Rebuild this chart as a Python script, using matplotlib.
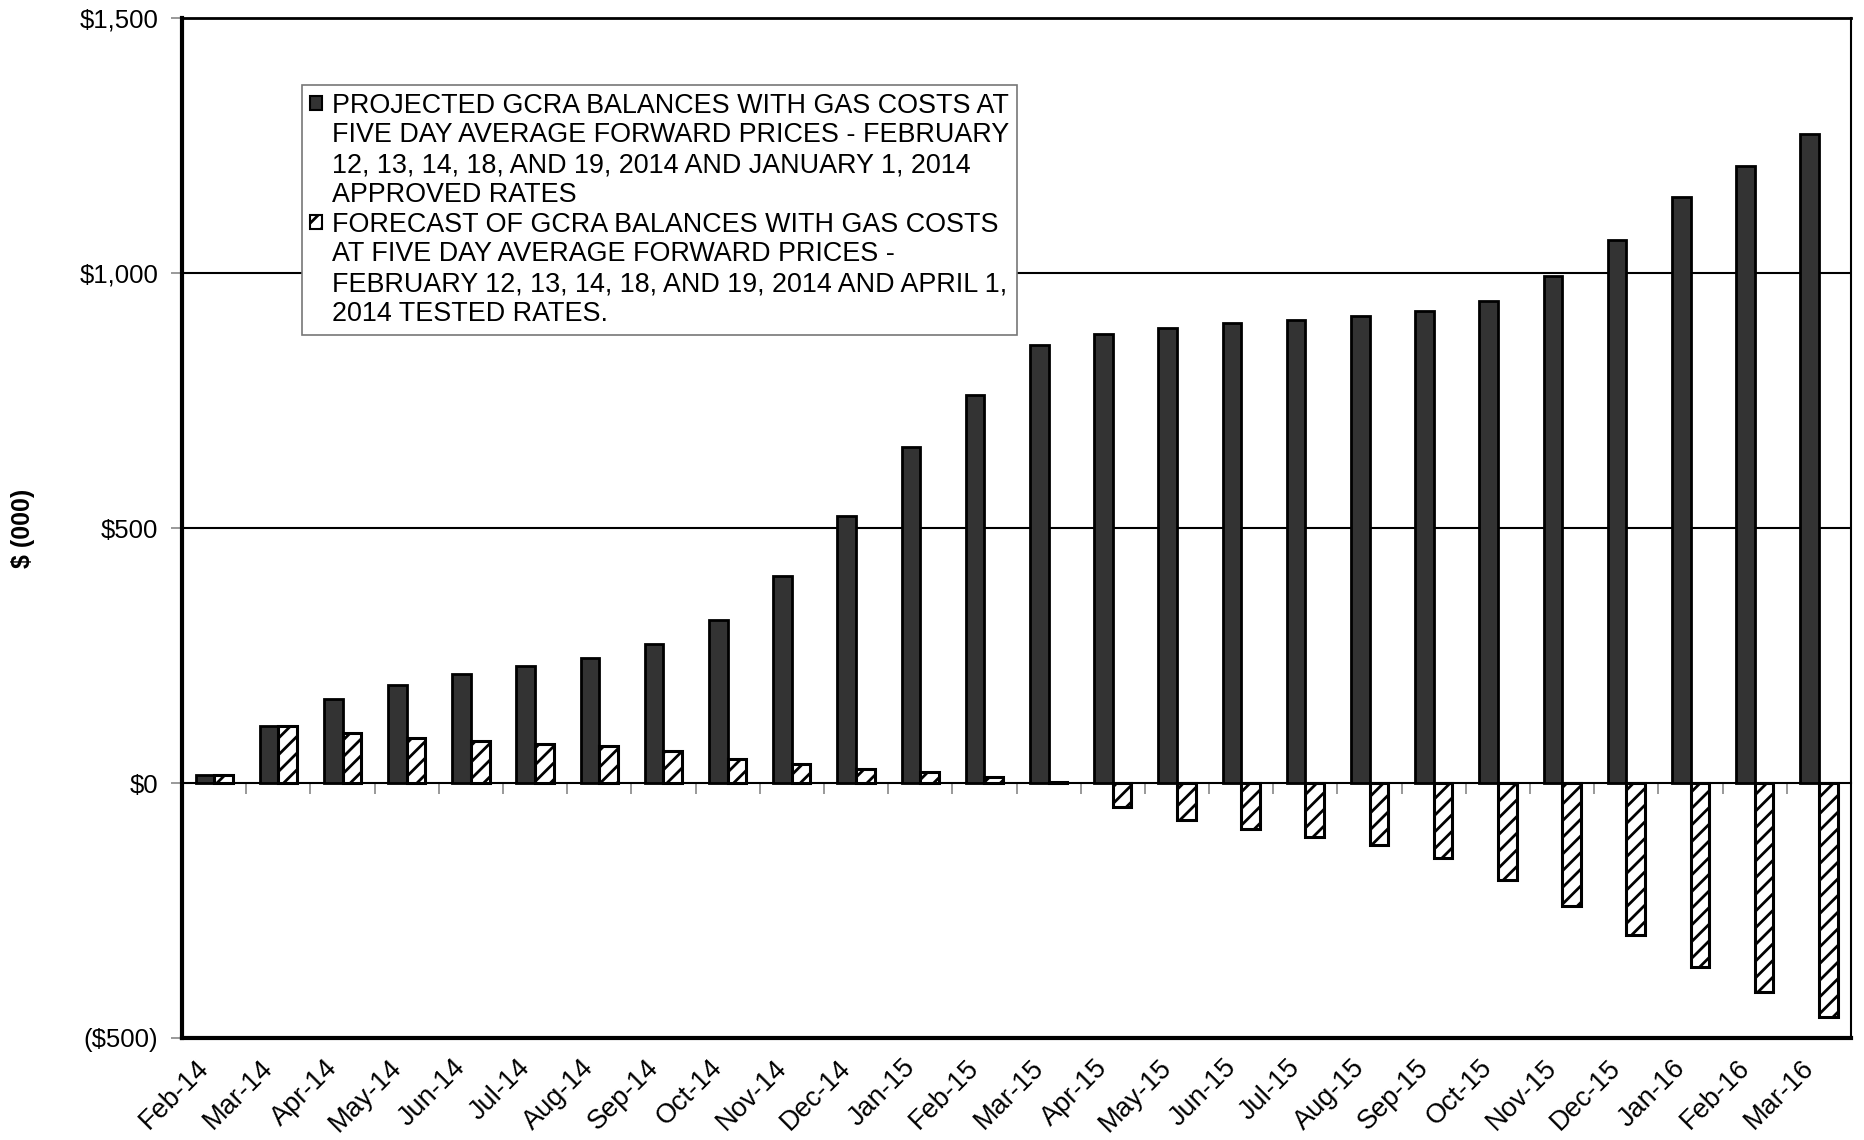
import matplotlib.pyplot as plt
import numpy as np
from matplotlib.patches import Patch

months = ['Feb-14', 'Mar-14', 'Apr-14', 'May-14', 'Jun-14', 'Jul-14', 'Aug-14',
          'Sep-14', 'Oct-14', 'Nov-14', 'Dec-14', 'Jan-15', 'Feb-15', 'Mar-15',
          'Apr-15', 'May-15', 'Jun-15', 'Jul-15', 'Aug-15', 'Sep-15', 'Oct-15',
          'Nov-15', 'Dec-15', 'Jan-16', 'Feb-16', 'Mar-16']

# balances in $000
projected = [16, 112, 164, 192, 213, 229, 245, 273, 320, 406, 523, 659, 762, 860,
             881, 892, 902, 909, 916, 925, 946, 995, 1065, 1149, 1210, 1273]
forecast = [16, 112, 98, 89, 82, 77, 72, 63, 47, 37, 28, 21, 12, 2,
            -47, -72, -91, -106, -121, -147, -191, -242, -298, -361, -410, -459]

yticks = [-500, 0, 500, 1000, 1500]
ytick_labels = ['($500)', '$0', '$500', '$1,000', '$1,500']

label_proj = ['PROJECTED GCRA BALANCES WITH GAS COSTS AT',
              'FIVE DAY AVERAGE FORWARD PRICES - FEBRUARY',
              '12, 13, 14, 18, AND 19, 2014 AND JANUARY 1, 2014',
              'APPROVED RATES']
label_fc = ['FORECAST OF GCRA BALANCES WITH GAS COSTS',
            'AT FIVE DAY AVERAGE FORWARD PRICES -',
            'FEBRUARY 12, 13, 14, 18, AND 19, 2014 AND APRIL 1,',
            '2014 TESTED RATES.']

plt.rcParams['font.family'] = ['Liberation Sans', 'DejaVu Sans']
plt.rcParams['hatch.linewidth'] = 2.0

fig = plt.figure(figsize=(18.65, 11.4), dpi=100)
ax = fig.add_axes([0.0976, 0.0895, 0.8949, 0.8945])

x = np.arange(len(months))
w = 0.29
b1 = ax.bar(x - w / 2, projected, w, color='#333333', edgecolor='black',
            linewidth=2, zorder=3)
b2 = ax.bar(x + w / 2, forecast, w, color='white', edgecolor='black',
            hatch='//', linewidth=2.2, zorder=3)

ax.set_xlim(-0.5, len(months) - 0.5)
ax.set_ylim(-500, 1500)
for yv in [500, 1000]:
    ax.axhline(yv, color='black', linewidth=1.5, zorder=1)

ax.set_yticks(yticks)
ax.set_yticklabels(ytick_labels, fontsize=18.5)
ax.tick_params(axis='y', length=8, width=1.2, pad=9, color='#888888')

ax.set_xticks(x)
ax.set_xticklabels(months, rotation=45, ha='right', fontsize=19.5)
ax.tick_params(axis='x', length=0, pad=12)

for s in ['left', 'bottom']:
    ax.spines[s].set_linewidth(3)
ax.spines['top'].set_linewidth(2)
ax.spines['right'].set_linewidth(1.5)

# zero line carrying the category boundary ticks
zero_pos = (0 - ax.get_ylim()[0]) / (ax.get_ylim()[1] - ax.get_ylim()[0])
sec = ax.secondary_xaxis(zero_pos)
sec.set_xticks(np.arange(len(months) - 1) + 0.5)
sec.set_xticklabels([])
sec.tick_params(axis='x', direction='out', length=8, width=1.2, color='#888888')
sec.spines['bottom'].set_linewidth(1.5)
sec.spines['bottom'].set_zorder(4)

ax.set_ylabel('$ (000)', fontsize=18, fontweight='bold')
ax.yaxis.set_label_coords(-0.088, 0.5)

# one legend row per text line, swatch only on the first line of each entry
blank = Patch(visible=False)
h1 = Patch(facecolor='#333333', edgecolor='black', linewidth=1.5)
h2 = Patch(facecolor='white', edgecolor='black', hatch='//', linewidth=1.5)
handles = [h1] + [blank] * 3 + [h2] + [blank] * 3
labels = label_proj + label_fc
leg = ax.legend(handles, labels, loc='upper left', bbox_to_anchor=(0.0719, 0.935),
                prop={'size': 19.4}, frameon=True,
                fancybox=False, edgecolor='#777777', framealpha=1,
                handlelength=0.45, handleheight=0.45, handletextpad=0.35,
                labelspacing=0.14, borderpad=0.3, borderaxespad=0)
leg.get_frame().set_linewidth(1.2)
leg.set_zorder(5)

fig.savefig('out.png', dpi=100)
